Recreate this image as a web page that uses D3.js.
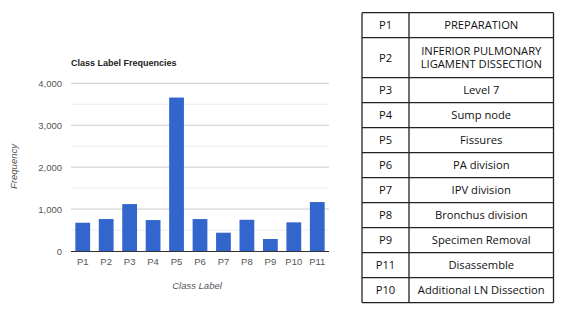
<!DOCTYPE html>
<html><head><meta charset="utf-8">
<script src="https://cdn.jsdelivr.net/npm/d3@7"></script>
<style>body{margin:0;background:#fff}svg{display:block}</style>
</head><body>
<svg id="c" width="570" height="309"></svg>
<script>
const categories = ["P1","P2","P3","P4","P5","P6","P7","P8","P9","P10","P11"];
const frequencies = [674, 762, 1119, 738, 3660, 762, 436, 745, 286, 683, 1167];
const yTicks = [0, 1000, 2000, 3000, 4000];
const tableCodes = ["P1","P2","P3","P4","P5","P6","P7","P8","P9","P11","P10"];
const tableLabels = [["PREPARATION"],["INFERIOR PULMONARY","LIGAMENT DISSECTION"],["Level 7"],["Sump node"],["Fissures"],["PA division"],["IPV division"],["Bronchus division"],["Specimen Removal"],["Disassemble"],["Additional LN Dissection"]];

const svg = d3.select("#c");
const cf = "'Liberation Sans', Arial, sans-serif";
const m = {left:71, right:329, top:83.3, bottom:251};
const x = d3.scaleBand().domain(categories).range([m.left, m.right]).paddingInner(0.37).paddingOuter(0.185);
const y = d3.scaleLinear().domain([0,4000]).range([m.bottom, m.top]);

svg.append("g").selectAll("line").data(d3.range(500,4000,1000)).join("line")
  .attr("x1",m.left).attr("x2",m.right).attr("y1",d=>y(d)).attr("y2",d=>y(d))
  .attr("stroke","#ebebeb").attr("stroke-width",1);
svg.append("g").selectAll("line").data(yTicks.slice(1)).join("line")
  .attr("x1",m.left).attr("x2",m.right).attr("y1",d=>y(d)).attr("y2",d=>y(d))
  .attr("stroke","#cccccc").attr("stroke-width",1);

const yAxis = svg.append("g").attr("transform",`translate(${m.left},0)`)
  .call(d3.axisLeft(y).tickValues(yTicks).tickSize(0).tickPadding(9).tickFormat(d3.format(",")));
yAxis.select(".domain").remove();
yAxis.selectAll("text").attr("fill","#555").attr("font-family",cf).attr("font-size","9.5px");

svg.append("g").selectAll("rect").data(frequencies).join("rect")
  .attr("x",(d,i)=>x(categories[i])).attr("width",x.bandwidth())
  .attr("y",d=>y(d)).attr("height",d=>y(0)-y(d)).attr("fill","#3366cc");

svg.append("line").attr("x1",m.left).attr("x2",m.right).attr("y1",y(0)+0.5).attr("y2",y(0)+0.5).attr("stroke","#333").attr("stroke-width",1);

const xAxis = svg.append("g").attr("transform",`translate(0,${m.bottom})`)
  .call(d3.axisBottom(x).tickSize(0).tickPadding(7));
xAxis.select(".domain").remove();
xAxis.selectAll("text").attr("fill","#555").attr("font-family",cf).attr("font-size","9.5px");

svg.append("text").attr("x",71).attr("y",66).text("Class Label Frequencies")
  .attr("font-family",cf).attr("font-weight","bold").attr("font-size","9px").attr("fill","#222");
svg.append("text").attr("transform","translate(16.5,166.5) rotate(-90)").attr("text-anchor","middle").text("Frequency")
  .attr("font-family",cf).attr("font-style","italic").attr("font-size","9.5px").attr("fill","#555");
svg.append("text").attr("x",197).attr("y",288.5).attr("text-anchor","middle").text("Class Label")
  .attr("font-family",cf).attr("font-style","italic").attr("font-size","9.5px").attr("fill","#555");

// table
const tX0 = 362, tX1 = 409, tX2 = 553.5, tTop = 12.7;
const rowH = 25, lineH = 15;
let yy = tTop;
const rows = tableCodes.map((c,i)=>{
  const h = tableLabels[i].length > 1 ? rowH + lineH : rowH;
  const r = {code:c, lines:tableLabels[i], y:yy, h:h};
  yy += h; return r;
});
const tg = svg.append("g");
const tf = "'Open Sans', 'Noto Sans', sans-serif";
rows.forEach(r=>{
  tg.append("text").attr("x",(tX0+tX1)/2).attr("y",r.y+r.h/2).attr("dy","0.35em").attr("text-anchor","middle")
    .text(r.code).attr("font-family",tf).attr("font-size","11.2px").attr("fill","#111");
  const n = r.lines.length;
  r.lines.forEach((t,k)=>{
    tg.append("text").attr("x",(tX1+tX2)/2).attr("y",r.y+r.h/2+(k-(n-1)/2)*13.5).attr("dy","0.35em").attr("text-anchor","middle")
      .text(t).attr("font-family",tf).attr("font-size","11.2px").attr("fill","#111");
  });
});
const ys = [tTop].concat(rows.map(r=>r.y+r.h));
tg.selectAll("line.h").data(ys).join("line").attr("class","h")
  .attr("x1",tX0).attr("x2",tX2).attr("y1",d=>d).attr("y2",d=>d).attr("stroke","#222").attr("stroke-width",1.3);
tg.selectAll("line.v").data([tX0,tX1,tX2]).join("line").attr("class","v")
  .attr("x1",d=>d).attr("x2",d=>d).attr("y1",tTop).attr("y2",ys[ys.length-1]).attr("stroke","#222").attr("stroke-width",1.3);
</script>
</body></html>
